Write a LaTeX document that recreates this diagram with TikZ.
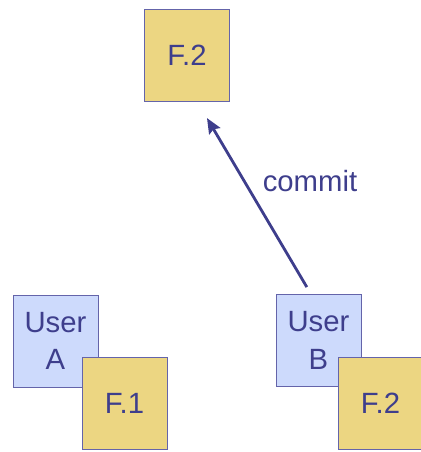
\documentclass[tikz,border=0pt]{standalone}
\usepackage{fontspec}
\setmainfont{Liberation Sans}
\usetikzlibrary{arrows.meta}
\definecolor{inkblue}{RGB}{62,62,140}
\definecolor{edgeblue}{RGB}{100,100,170}
\definecolor{fileyellow}{RGB}{236,214,130}
\definecolor{userblue}{RGB}{205,218,252}

\tikzset{
    box/.style={draw=edgeblue, line width=0.7pt, minimum width=2.55cm, minimum height=2.76cm,
        inner sep=0pt, align=center, text=inkblue, font=\fontsize{25}{32}\selectfont},
    filebox/.style={box, fill=fileyellow},
    userbox/.style={box, fill=userblue},
    commitarrow/.style={draw=inkblue, line width=2.4pt, -{Stealth[length=13pt, width=11pt, inset=2pt]}}
}

\begin{document}
\begin{tikzpicture}
    \useasboundingbox (0,0) rectangle (12.6,-13.56);

    % repository copy
    \node[filebox] (repo) at (5.61,-1.65) {F.2};

    % user A with its working copy
    \node[userbox] (usera) at (1.665,-10.23) {User\\A};
    \node[filebox] (filea) at (3.735,-12.09) {F.1};

    % user B with its working copy
    \node[userbox] (userb) at (9.555,-10.215) {User\\B};
    \node[filebox] (fileb) at (11.415,-12.09) {F.2};

    % commit from B to the repository
    \draw[commitarrow] ([xshift=-0.35cm, yshift=0.21cm]userb.north) -- ([xshift=0.6cm, yshift=-0.5cm]repo.south);
    \node[text=inkblue, font=\fontsize{25}{28}\selectfont] (commit) at (9.3,-5.43) {commit};
\end{tikzpicture}
\end{document}
